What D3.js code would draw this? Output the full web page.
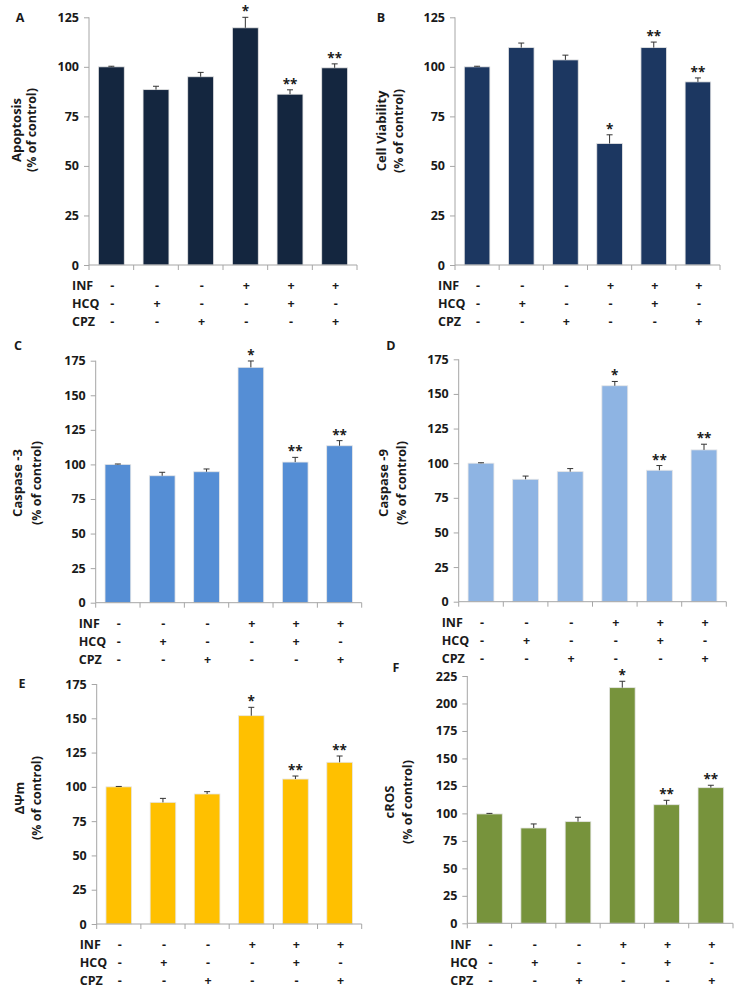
<!DOCTYPE html>
<html><head><meta charset="utf-8">
<script src="https://cdn.jsdelivr.net/npm/d3@7"></script>
<style>
body{margin:0;background:#fff}
svg text{font-family:"Open Sans",Lato,sans-serif;font-weight:700;fill:#1a1a1a}
</style></head>
<body><svg id="c" width="737" height="993"></svg>
<script>
// ---- data ----
const groups = ["g1","g2","g3","g4","g5","g6"];
const rowNames = ["INF","HCQ","CPZ"];
const INF = ["-","-","-","+","+","+"];
const HCQ = ["-","+","-","-","+","-"];
const CPZ = ["-","-","+","-","-","+"];
const stars = ["","","","*","**","**"];

const apoptosis = [100, 88.5, 95, 119.7, 86.2, 99.5];
const apoptosisErr = [0.3, 1.7, 2.2, 5.3, 2.2, 2.0];
const viability = [100, 109.7, 103.5, 61.3, 109.7, 92.4];
const viabilityErr = [0.3, 2.3, 2.4, 4.4, 2.8, 2.0];
const caspase3 = [100, 91.8, 94.7, 170.2, 101.7, 113.5];
const caspase3Err = [0.3, 2.5, 2.0, 4.6, 3.4, 3.7];
const caspase9 = [100, 88.4, 93.9, 155.9, 94.9, 109.6];
const caspase9Err = [0.3, 2.3, 2.2, 3.1, 3.4, 4.1];
const dpsi = [100, 88.7, 94.8, 151.9, 105.7, 117.9];
const dpsiErr = [0.3, 2.9, 1.7, 6.1, 2.2, 4.6];
const cros = [99.5, 86.7, 92.5, 214.4, 107.9, 123.4];
const crosErr = [0.5, 3.7, 4.0, 5.8, 4.0, 2.2];

const ticks125 = [0,25,50,75,100,125];
const ticks175 = [0,25,50,75,100,125,150,175];
const ticks225 = [0,25,50,75,100,125,150,175,200,225];

// ---- layout ----
const panels = [
 {letter:"A", title:"Apoptosis", vals:apoptosis, err:apoptosisErr, ticks:ticks125, color:"#14263f",
  x0:89, x1:357, y0:265, yT:17.3, lx:20, ly:22, t1:-73, t2:-57, ty:130},
 {letter:"B", title:"Cell Viability", vals:viability, err:viabilityErr, ticks:ticks125, color:"#1c3761",
  x0:455, x1:720, y0:265, yT:17.3, lx:381, ly:22, t1:-74, t2:-56, ty:131},
 {letter:"C", title:"Caspase -3", vals:caspase3, err:caspase3Err, ticks:ticks175, color:"#558ed5",
  x0:95.7, x1:361.7, y0:602.7, yT:360.7, lx:18, ly:350, t1:-78, t2:-59, ty:483},
 {letter:"D", title:"Caspase -9", vals:caspase9, err:caspase9Err, ticks:ticks175, color:"#8eb4e3",
  x0:458.7, x1:726.3, y0:601.7, yT:359.3, lx:391, ly:350, t1:-75, t2:-57, ty:483},
 {letter:"E", title:"ΔΨm", vals:dpsi, err:dpsiErr, ticks:ticks175, color:"#ffc000",
  x0:96.7, x1:361.7, y0:924, yT:684, lx:22, ly:688, t1:-77, t2:-60, ty:798},
 {letter:"F", title:"cROS", vals:cros, err:crosErr, ticks:ticks225, color:"#77933c",
  x0:467.3, x1:733, y0:923.3, yT:676, lx:396, ly:672, t1:-78, t2:-60, ty:802}
];

const svg = d3.select("#c");
const axisColor = "#a6a6a6";
const fs = 12.5;

panels.forEach(p => {
  const g = svg.append("g");
  const maxV = p.ticks[p.ticks.length-1];
  const y = d3.scaleLinear().domain([0, maxV]).range([p.y0, p.yT]);
  const x = d3.scaleBand().domain(groups).range([p.x0, p.x1]).paddingInner(0.42).paddingOuter(0.21);
  const step = x.step();

  // bars
  g.selectAll("rect.bar").data(p.vals).enter().append("rect")
    .attr("x", (d,i) => x(groups[i]))
    .attr("width", x.bandwidth())
    .attr("y", d => y(d))
    .attr("height", d => p.y0 - y(d))
    .attr("fill", p.color)
    .attr("stroke", "#e6e6e6").attr("stroke-width", 0.8);

  // error bars (upper only)
  const cap = 3;
  p.vals.forEach((v,i) => {
    const cx = x(groups[i]) + x.bandwidth()/2;
    const top = y(v + p.err[i]);
    g.append("line").attr("x1",cx).attr("x2",cx).attr("y1",y(v)).attr("y2",top)
      .attr("stroke","#333").attr("stroke-width",1);
    g.append("line").attr("x1",cx-cap).attr("x2",cx+cap).attr("y1",top).attr("y2",top)
      .attr("stroke","#333").attr("stroke-width",1);
    if (stars[i]) {
      g.append("text").attr("x",cx).attr("y",top-1).attr("text-anchor","middle")
        .attr("font-size",13.5).text(stars[i]);
    }
  });

  // y axis
  const yAxis = d3.axisLeft(y).tickValues(p.ticks).tickSize(5).tickPadding(5).tickFormat(d3.format("d"));
  const ya = g.append("g").attr("transform",`translate(${p.x0},0)`).call(yAxis);
  ya.select(".domain").attr("stroke",axisColor).attr("d",`M0,${p.yT}V${p.y0}`);
  ya.selectAll(".tick line").attr("stroke",axisColor);
  ya.selectAll(".tick text").attr("font-size",fs).attr("fill","#1a1a1a")
    .style("font-family","'Open Sans',sans-serif").style("font-weight","700");

  // x axis line with boundary ticks
  g.append("line").attr("x1",p.x0).attr("x2",p.x1).attr("y1",p.y0).attr("y2",p.y0)
    .attr("stroke",axisColor).attr("stroke-width",1);
  d3.range(groups.length+1).forEach(k => {
    const bx = p.x0 + k*step;
    g.append("line").attr("x1",bx).attr("x2",bx).attr("y1",p.y0).attr("y2",p.y0+5)
      .attr("stroke",axisColor);
  });

  // treatment rows
  [INF,HCQ,CPZ].forEach((row,r) => {
    const ry = p.y0 + 21 + r*18;
    g.append("text").attr("x",p.x0-17).attr("y",ry).attr("dy","0.35em")
      .attr("font-size",fs).text(rowNames[r]);
    row.forEach((s,i) => {
      const cx = x(groups[i]) + x.bandwidth()/2 + 1;
      g.append("text").attr("x",cx).attr("y",ry).attr("dy","0.35em").attr("text-anchor","middle")
        .attr("font-size",fs).text(s);
    });
  });

  // panel letter
  g.append("text").attr("x",p.lx).attr("y",p.ly).attr("text-anchor","middle")
    .attr("font-size",fs).text(p.letter);

  // y title
  g.append("text").attr("transform",`translate(${p.x0+p.t1},${p.ty}) rotate(-90)`)
    .attr("text-anchor","middle").attr("dy","0.35em").attr("font-size",13).text(p.title);
  g.append("text").attr("transform",`translate(${p.x0+p.t2},${p.ty}) rotate(-90)`)
    .attr("text-anchor","middle").attr("dy","0.35em").attr("font-size",12.5).text("(% of control)");
});
</script></body></html>
